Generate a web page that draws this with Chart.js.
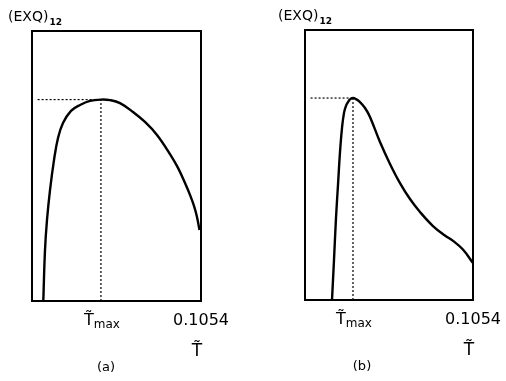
<!DOCTYPE html>
<html>
<head>
<meta charset="utf-8">
<script src="https://cdn.jsdelivr.net/npm/chart.js@4"></script>
<style>
  html, body { margin: 0; padding: 0; background: #fff; }
  .panel { position: absolute; top: 0; width: 253px; height: 381px; }
</style>
</head>
<body>
<div class="panel" style="left:0"><canvas id="chartA" width="253" height="381"></canvas></div>
<div class="panel" style="left:253px"><canvas id="chartB" width="253" height="381"></canvas></div>
<script>
// x range (reduced temperature T~)
const xMax = 0.1054;

// Panel (a) curve
const tA = [0.00705, 0.00811, 0.00935, 0.01123, 0.01372, 0.01622, 0.01933, 0.02432, 0.02994, 0.03617,
            0.04303, 0.04865, 0.05488, 0.06299, 0.07047, 0.07796, 0.08606, 0.09105, 0.09542, 0.09854,
            0.10103, 0.1029, 0.10446];
const exqA = [0.000, 0.189, 0.300, 0.411, 0.522, 0.604, 0.659, 0.704, 0.726, 0.741,
              0.746, 0.744, 0.733, 0.700, 0.663, 0.615, 0.544, 0.493, 0.437, 0.393,
              0.352, 0.311, 0.263];

// Panel (b) curve
const tB = [0.01694, 0.01819, 0.01945, 0.0207, 0.02196, 0.02321, 0.02447, 0.02572, 0.02698, 0.02823,
            0.03011, 0.0320, 0.03451, 0.03765, 0.04078, 0.04705, 0.05333, 0.0596, 0.06588, 0.07215,
            0.0803, 0.0878, 0.0929, 0.09908, 0.1054];
const exqB = [0.000, 0.148, 0.304, 0.426, 0.548, 0.637, 0.693, 0.719, 0.733, 0.743,
              0.748, 0.744, 0.733, 0.711, 0.678, 0.585, 0.504, 0.433, 0.374, 0.326,
              0.274, 0.239, 0.219, 0.187, 0.137];

// maxima
const tmaxA = 0.0430, peakA = 0.746;
const tmaxB = 0.0301, peakB = 0.748;

// text
const yTitle = '(EXQ)';
const ySub = '12';
const tickLabels = ['T\u0303', 'max', '0.1054'];
const xTitle = 'T\u0303';
const panelNames = ['(a)', '(b)'];

const FONT = '"DejaVu Sans", sans-serif';

const decor = {
  id: 'decor',
  afterDraw(chart, args, opts) {
    const { ctx, chartArea: a, scales: { x } } = chart;
    ctx.save();
    ctx.strokeStyle = '#000';
    ctx.lineWidth = 2;
    ctx.strokeRect(a.left, a.top, a.right - a.left, a.bottom - a.top);

    ctx.fillStyle = '#000';
    ctx.textBaseline = 'alphabetic';
    // y title
    ctx.textAlign = 'left';
    ctx.font = '14px ' + FONT;
    const yx = a.left - opts.titleDx;
    ctx.fillText(yTitle, yx, a.top - 10);
    const w = ctx.measureText(yTitle).width;
    ctx.font = 'bold 9px ' + FONT;
    ctx.fillText(ySub, yx + w + 1, a.top - 6);

    // T~max tick label
    const px = x.getPixelForValue(opts.tmax) - 17;
    ctx.font = '16px ' + FONT;
    ctx.fillText(tickLabels[0], px, a.bottom + 24);
    const tw = ctx.measureText('T').width;
    ctx.font = '12px ' + FONT;
    ctx.fillText(tickLabels[1], px + tw, a.bottom + 27);

    // right end tick
    ctx.textAlign = 'center';
    ctx.font = '16px ' + FONT;
    ctx.fillText(tickLabels[2], x.getPixelForValue(xMax), a.bottom + 24);

    // axis title
    ctx.font = '17px ' + FONT;
    ctx.fillText(xTitle, x.getPixelForValue(xMax) - 4, a.bottom + 55);

    // panel name
    ctx.font = '13px ' + FONT;
    ctx.fillText(opts.name, a.left + opts.nameDx, a.bottom + 70);
    ctx.restore();
  }
};

function makeChart(id, ts, vals, tmax, peak, name, nameDx, titleDx, pad) {
  const curve = ts.map((t, i) => ({ x: t, y: vals[i] }));
  const dotted = { borderColor: '#000', borderWidth: 1.2, borderDash: [2, 2], pointRadius: 0, tension: 0 };
  return new Chart(document.getElementById(id), {
    type: 'line',
    data: {
      datasets: [
        Object.assign({ data: [{ x: 0.0035, y: peak }, { x: tmax, y: peak }] }, dotted),
        Object.assign({ data: [{ x: tmax, y: 0 }, { x: tmax, y: peak }] }, dotted),
        {
          data: curve,
          borderColor: '#000',
          borderWidth: 2.4,
          pointRadius: 0,
          tension: 0.4
        }
      ]
    },
    options: {
      responsive: false,
      animation: false,
      layout: { padding: pad },
      plugins: {
        legend: { display: false },
        tooltip: { enabled: false },
        decor: { tmax: tmax, name: name, nameDx: nameDx, titleDx: titleDx }
      },
      scales: {
        x: { type: 'linear', min: 0, max: xMax, display: false },
        y: { min: 0, max: 1, display: false }
      }
    },
    plugins: [decor]
  });
}

makeChart('chartA', tA, exqA, tmaxA, peakA, panelNames[0], 74, 24,
  { left: 32, right: 52, top: 31, bottom: 80 });
makeChart('chartB', tB, exqB, tmaxB, peakB, panelNames[1], 57, 27,
  { left: 52, right: 33, top: 30, bottom: 81 });
</script>
</body>
</html>
